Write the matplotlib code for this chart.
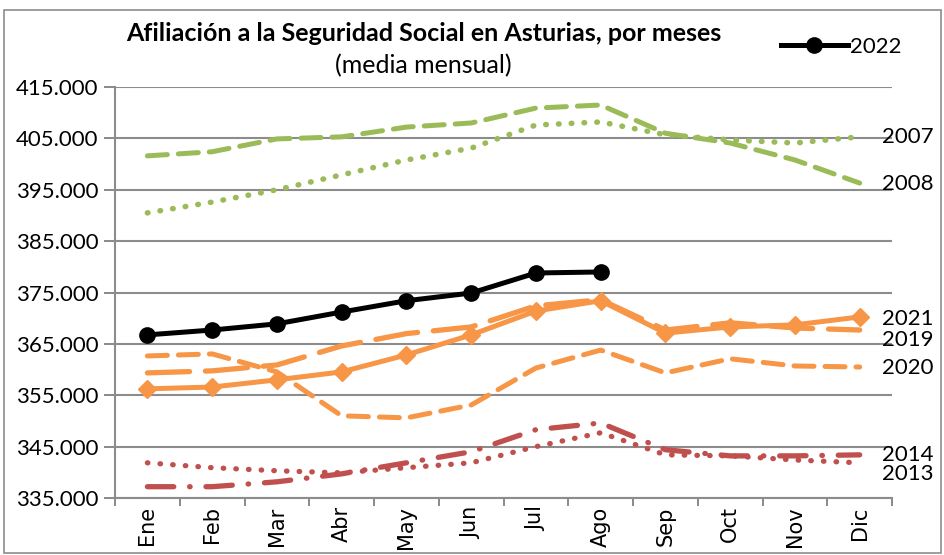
import matplotlib.pyplot as plt
import numpy as np

plt.rcParams['font.family'] = ['Lato', 'DejaVu Sans']

meses = ['Ene', 'Feb', 'Mar', 'Abr', 'May', 'Jun', 'Jul', 'Ago', 'Sep', 'Oct', 'Nov', 'Dic']

y2007 = [390500, 392600, 395000, 397900, 400800, 403100, 407600, 408200, 405700, 404700, 404100, 405300]
y2008 = [401600, 402400, 404900, 405300, 407200, 408000, 410900, 411500, 406000, 404100, 400800, 396300]
y2013 = [341850, 340900, 340300, 339900, 340900, 341850, 345000, 347700, 343400, 343200, 342400, 341850]
y2014 = [337200, 337200, 338150, 339700, 341850, 344000, 348300, 349600, 344400, 343200, 343200, 343400]
y2019 = [359350, 359750, 360900, 364600, 367000, 368300, 372400, 373600, 367700, 369100, 368100, 367700]
y2020 = [362650, 363050, 359550, 351000, 350600, 353100, 360300, 363800, 359350, 362100, 360700, 360500]
y2021 = [356250, 356600, 358000, 359550, 362850, 366750, 371400, 373400, 367100, 368300, 368700, 370250]
y2022 = [366750, 367700, 368900, 371200, 373400, 374900, 378800, 379000]

green = '#9BBB59'
orange = '#F79646'
red = '#C0504D'

fig = plt.figure(figsize=(9.45, 5.55), dpi=100)
ax = fig.add_axes([0.1217, 0.1027, 0.8223, 0.7405])

x = np.arange(len(meses))

ax.plot(x, y2008, color=green, lw=3.6, dashes=(4, 2.2), dash_capstyle='round')
ax.plot(x, y2007, color=green, lw=4.0, linestyle=(0, (0.1, 2.2)), dash_capstyle='round')
ax.plot(x, y2013, color=red, lw=3.8, linestyle=(0, (0.1, 2.3)), dash_capstyle='round')
ax.plot(x, y2014, color=red, lw=3.8, linestyle=(0, (5, 3, 0.1, 3)), dash_capstyle='round')
ax.plot(x, y2020, color=orange, lw=3.6, dashes=(4, 2.2), dash_capstyle='round')
ax.plot(x, y2019, color=orange, lw=3.8, dashes=(8, 3), dash_capstyle='round')
ax.plot(x, y2021, color=orange, lw=3.6, marker='D', markersize=9)
ax.plot(x[:len(y2022)], y2022, color='black', lw=3.6, marker='o', markersize=11, label='2022')

ax.set_xlim(-0.5, 11.5)
ax.set_ylim(335000, 415000)
ticks = np.arange(335000, 415001, 10000)
ax.set_yticks(ticks)
ax.set_yticklabels([f'{v:,.0f}'.replace(',', '.') for v in ticks], fontsize=16)
ax.set_xticks(x)
ax.set_xticklabels(meses, rotation=90, fontsize=15, family=['DejaVu Sans'])
ax.set_xticks(np.arange(-0.5, 12, 1), minor=True)
ax.tick_params(axis='x', which='major', length=0, pad=6)
ax.tick_params(axis='x', which='minor', length=6, color='#808080', width=1.3)
ax.tick_params(axis='y', length=8, color='#808080', width=1.3, pad=4)

ax.grid(axis='y', color='#8c8c8c', lw=1.5)
ax.set_axisbelow(True)
for s in ['top', 'right']:
    ax.spines[s].set_visible(False)
for s in ['left', 'bottom']:
    ax.spines[s].set_color('#8c8c8c')
    ax.spines[s].set_linewidth(1.5)

labels = [('2007', 405300), ('2008', 396200), ('2021', 369900), ('2019', 365800),
          ('2020', 360400), ('2014', 343300), ('2013', 339700)]
trans = ax.get_yaxis_transform()
for txt, v in labels:
    ax.text(0.987, v, txt, fontsize=16, va='center', ha='left', transform=trans, clip_on=False)

fig.text(0.448, 0.94, 'Afiliación a la Seguridad Social en Asturias, por meses',
         fontsize=18, fontweight='bold', ha='center', va='center')
fig.text(0.448, 0.881, '(media mensual)', fontsize=18, ha='center', va='center')

fig.legend(loc='center', bbox_to_anchor=(0.89, 0.915), frameon=False, fontsize=16,
           handlelength=3.0, handletextpad=0.1)

fig.patches.append(plt.Rectangle((0.004, 0.004), 0.992, 0.978, transform=fig.transFigure,
                                 fill=False, edgecolor='#8c8c8c', lw=1.2))

fig.savefig('out.png', dpi=100)
